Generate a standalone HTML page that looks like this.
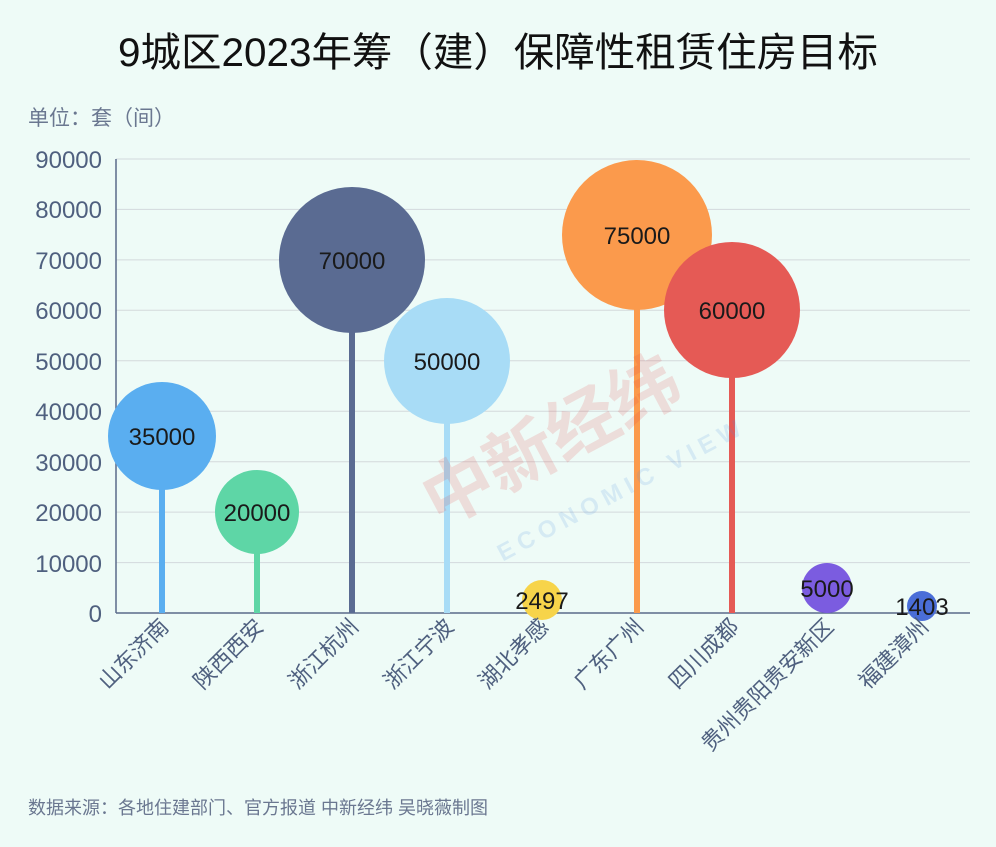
<!DOCTYPE html>
<html><head><meta charset="utf-8"><style>
body{margin:0;background:#eefbf7;}
svg{display:block;font-family:"Liberation Sans","Noto Sans CJK SC",sans-serif;}
</style></head><body>
<svg width="996" height="847" viewBox="0 0 996 847">
<rect width="996" height="847" fill="#eefbf7"/>
<text x="498" y="66" font-size="40" text-anchor="middle" fill="#111" textLength="760" lengthAdjust="spacingAndGlyphs">9城区2023年筹（建）保障性租赁住房目标</text>
<text x="28" y="125" font-size="21" fill="#6a7790">单位：套（间）</text>
<g stroke="#d3d9dc" stroke-width="1">
<line x1="116" x2="970" y1="159" y2="159"/><line x1="116" x2="970" y1="209.4" y2="209.4"/>
<line x1="116" x2="970" y1="259.9" y2="259.9"/><line x1="116" x2="970" y1="310.3" y2="310.3"/>
<line x1="116" x2="970" y1="360.8" y2="360.8"/><line x1="116" x2="970" y1="411.2" y2="411.2"/>
<line x1="116" x2="970" y1="461.7" y2="461.7"/><line x1="116" x2="970" y1="512.1" y2="512.1"/>
<line x1="116" x2="970" y1="562.6" y2="562.6"/>
</g>
<g font-size="24" fill="#4f607f" text-anchor="end">
<text x="102" y="168">90000</text><text x="102" y="218">80000</text><text x="102" y="269">70000</text>
<text x="102" y="319">60000</text><text x="102" y="370">50000</text><text x="102" y="420">40000</text>
<text x="102" y="471">30000</text><text x="102" y="521">20000</text><text x="102" y="572">10000</text>
<text x="102" y="622">0</text>
</g>
<line x1="116" x2="116" y1="159" y2="613" stroke="#5a6b8a" stroke-width="1.5"/>
<line x1="116" x2="970" y1="613" y2="613" stroke="#5a6b8a" stroke-width="1.5"/>
<g stroke-width="6">
<line x1="162" x2="162" y1="436" y2="613" stroke="#5aaef0"/>
<line x1="257" x2="257" y1="512" y2="613" stroke="#5ed6a6"/>
<line x1="352" x2="352" y1="260" y2="613" stroke="#5a6b92"/>
<line x1="447" x2="447" y1="361" y2="613" stroke="#a8dcf6"/>
<line x1="637" x2="637" y1="235" y2="613" stroke="#fb9a4c"/>
<line x1="732" x2="732" y1="310" y2="613" stroke="#e55a55"/>
</g>
<circle cx="162" cy="436" r="54" fill="#5aaef0"/>
<circle cx="257" cy="512" r="42" fill="#5ed6a6"/>
<circle cx="352" cy="260" r="73" fill="#5a6b92"/>
<circle cx="447" cy="361" r="63" fill="#a8dcf6"/>
<circle cx="542" cy="600" r="20" fill="#f7d44a"/>
<circle cx="637" cy="235" r="75" fill="#fb9a4c"/>
<circle cx="732" cy="310" r="68" fill="#e55a55"/>
<circle cx="827" cy="588" r="25" fill="#7b5ce0"/>
<circle cx="922" cy="606" r="15" fill="#4a6ed8"/>
<g font-size="24" fill="#1a1a1a" text-anchor="middle">
<text x="162" y="445">35000</text><text x="257" y="521">20000</text><text x="352" y="269">70000</text>
<text x="447" y="370">50000</text><text x="542" y="609">2497</text><text x="637" y="244">75000</text>
<text x="732" y="319">60000</text><text x="827" y="597">5000</text><text x="922" y="615">1403</text>
</g>
<g opacity="0.15" font-weight="bold">
<text x="390" y="470" font-size="70" fill="#e23b3b" transform="rotate(-28 530 400)">中新经纬</text>
<text x="430" y="530" font-size="24" fill="#4a90e2" transform="rotate(-28 530 400)" letter-spacing="6">ECONOMIC VIEW</text>
</g>
<g font-size="22" fill="#4f607f" text-anchor="end">
<text transform="translate(170,628) rotate(-45)">山东济南</text>
<text transform="translate(265,628) rotate(-45)">陕西西安</text>
<text transform="translate(360,628) rotate(-45)">浙江杭州</text>
<text transform="translate(455,628) rotate(-45)">浙江宁波</text>
<text transform="translate(550,628) rotate(-45)">湖北孝感</text>
<text transform="translate(645,628) rotate(-45)">广东广州</text>
<text transform="translate(740,628) rotate(-45)">四川成都</text>
<text transform="translate(835,628) rotate(-45)">贵州贵阳贵安新区</text>
<text transform="translate(930,628) rotate(-45)">福建漳州</text>
</g>
<text x="28" y="814" font-size="18" fill="#6a7790">数据来源：各地住建部门、官方报道 中新经纬 吴晓薇制图</text>
</svg>
</body></html>
